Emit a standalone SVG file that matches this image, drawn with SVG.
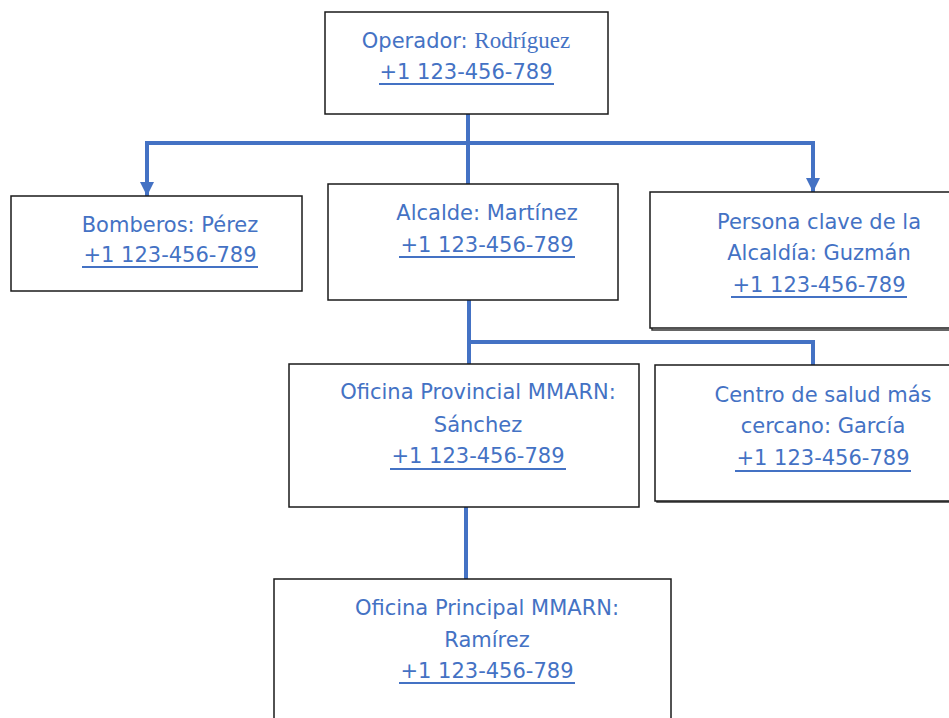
<svg xmlns="http://www.w3.org/2000/svg" width="949" height="718" viewBox="0 0 949 718">
<style>
.box{fill:#fff;stroke:#1a1a1a;stroke-width:1.5}
.sh{fill:none;stroke:#333;stroke-width:1.5}
.t{font-family:"DejaVu Sans","Noto Sans",sans-serif;font-size:21px;fill:#4472C4;text-anchor:middle}
.s{font-family:"Liberation Serif",serif;font-size:23px}
.u{stroke:#4472C4;stroke-width:2}
.c{fill:none;stroke:#4472C4;stroke-width:4}
</style>
<defs>
<marker id="ah" viewBox="0 0 10 10" refX="10" refY="5" markerWidth="3.5" markerHeight="3.5" orient="auto" markerUnits="strokeWidth">
<path d="M0,0 L10,5 L0,10 z" fill="#4472C4"/>
</marker>
</defs>
<g id="connectors">
<path class="c" d="M468,114 V184"/>
<path class="c" d="M468,143 H147 V196" marker-end="url(#ah)"/>
<path class="c" d="M468,143 H813 V192" marker-end="url(#ah)"/>
<path class="c" d="M469,300 V365"/>
<path class="c" d="M469,342 H813 V365"/>
<path class="c" d="M466,507 V579"/>
</g>
<g id="operador">
<rect class="box" x="325" y="12" width="283" height="102"/>
<text class="t" x="466" y="48">Operador: <tspan class="s">Rodríguez</tspan></text>
<text class="t" x="466" y="79">+1 123-456-789</text>
<line class="u" x1="379" y1="84" x2="554" y2="84"/>
</g>
<g id="bomberos">
<rect class="box" x="11" y="196" width="291" height="95"/>
<text class="t" x="170" y="232">Bomberos: Pérez</text>
<text class="t" x="170" y="262">+1 123-456-789</text>
<line class="u" x1="82" y1="267" x2="258" y2="267"/>
</g>
<g id="alcalde">
<rect class="box" x="328" y="184" width="290" height="116"/>
<text class="t" x="487" y="220">Alcalde: Martínez</text>
<text class="t" x="487" y="252">+1 123-456-789</text>
<line class="u" x1="399" y1="257" x2="575" y2="257"/>
</g>
<g id="persona">
<path class="sh" d="M652,194 V330 H949"/>
<rect class="box" x="650" y="192" width="302" height="136"/>
<text class="t" x="819" y="229">Persona clave de la</text>
<text class="t" x="819" y="260">Alcaldía: Guzmán</text>
<text class="t" x="819" y="292">+1 123-456-789</text>
<line class="u" x1="731" y1="297" x2="907" y2="297"/>
</g>
<g id="oficina-provincial">
<rect class="box" x="289" y="364" width="350" height="143"/>
<text class="t" x="478" y="399">Oficina Provincial MMARN:</text>
<text class="t" x="478" y="432">Sánchez</text>
<text class="t" x="478" y="463">+1 123-456-789</text>
<line class="u" x1="390" y1="469" x2="566" y2="469"/>
</g>
<g id="centro-salud">
<path class="sh" d="M657,367 V502 H949"/>
<rect class="box" x="655" y="365" width="297" height="136"/>
<text class="t" x="823" y="402">Centro de salud más</text>
<text class="t" x="823" y="433">cercano: García</text>
<text class="t" x="823" y="465">+1 123-456-789</text>
<line class="u" x1="735" y1="471" x2="911" y2="471"/>
</g>
<g id="oficina-principal">
<rect class="box" x="274" y="579" width="397" height="145"/>
<text class="t" x="487" y="615">Oficina Principal MMARN:</text>
<text class="t" x="487" y="647">Ramírez</text>
<text class="t" x="487" y="678">+1 123-456-789</text>
<line class="u" x1="399" y1="683" x2="575" y2="683"/>
</g>
</svg>
